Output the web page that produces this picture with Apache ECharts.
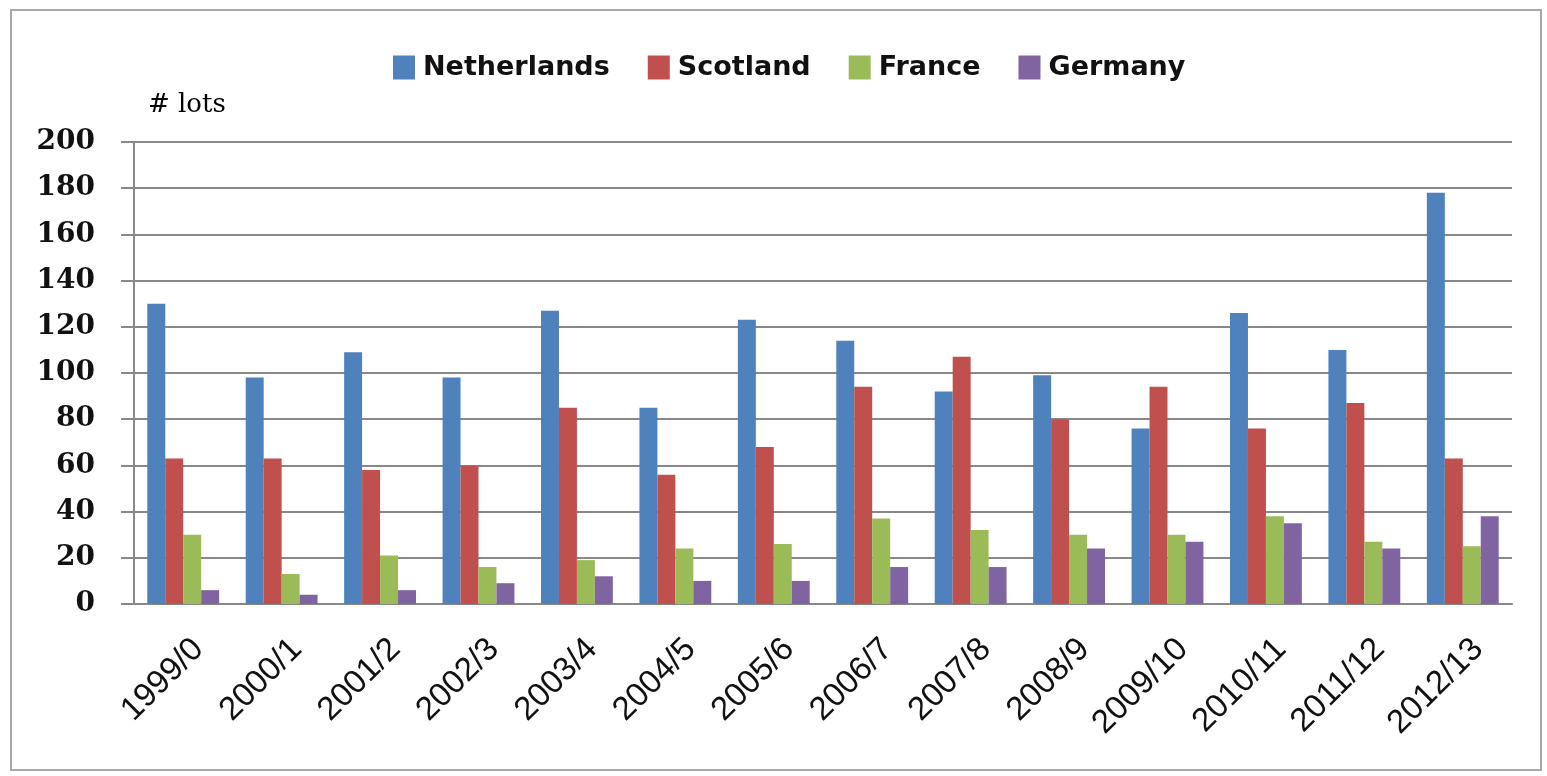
<!DOCTYPE html>
<html>
<head>
<meta charset="utf-8">
<script src="https://cdn.jsdelivr.net/npm/echarts@6/dist/echarts.min.js"></script>
<style>
  html, body { margin: 0; padding: 0; background: #fff; }
  #chart { width: 1547px; height: 776px; }
</style>
</head>
<body>
<div id="chart"></div>
<script>
// Seasons on the category axis
const seasons = ['1999/0', '2000/1', '2001/2', '2002/3', '2003/4', '2004/5', '2005/6',
                 '2006/7', '2007/8', '2008/9', '2009/10', '2010/11', '2011/12', '2012/13'];

// Number of lots per country and season
const netherlands = [130, 98, 109, 98, 127, 85, 123, 114, 92, 99, 76, 126, 110, 178];
const scotland    = [63, 63, 58, 60, 85, 56, 68, 94, 107, 80, 94, 76, 87, 63];
const france      = [30, 13, 21, 16, 19, 24, 26, 37, 32, 30, 30, 38, 27, 25];
const germany     = [6, 4, 6, 9, 12, 10, 10, 16, 16, 24, 27, 35, 24, 38];

const seriesNames = ['Netherlands', 'Scotland', 'France', 'Germany'];
const seriesData = [netherlands, scotland, france, germany];
const palette = ['#4F81BD', '#C0504D', '#9BBB59', '#8064A2'];

const gridGray = '#888888';

const chart = echarts.init(document.getElementById('chart'), null, { renderer: 'canvas' });
chart.setOption({
  animation: false,
  backgroundColor: '#fff',
  color: palette,
  graphic: [{
    type: 'rect',
    silent: true,
    z: -10,
    shape: { x: 11, y: 10, width: 1530, height: 760 },
    style: { fill: 'none', stroke: '#a8a8a8', lineWidth: 2 }
  }],
  legend: {
    left: 388,
    top: 49,
    icon: 'rect',
    itemWidth: 22,
    itemHeight: 24,
    itemGap: 38,
    textStyle: {
      fontFamily: 'DejaVu Sans',
      fontWeight: 'bold',
      fontSize: 27,
      color: '#111',
      padding: [0, 0, 0, 3]
    },
    data: seriesNames
  },
  grid: { left: 134, right: 35, top: 142, bottom: 172 },
  xAxis: {
    type: 'category',
    data: seasons,
    axisLine: { lineStyle: { color: gridGray, width: 2 } },
    axisTick: { length: 10, lineStyle: { color: gridGray, width: 2 } },
    axisLabel: {
      interval: 0,
      rotate: 45,
      margin: 25,
      verticalAlign: 'top',
      padding: [5, 0, 0, 0],
      fontFamily: 'Liberation Sans',
      fontSize: 33,
      color: '#111'
    }
  },
  yAxis: {
    type: 'value',
    min: 0,
    max: 200,
    interval: 20,
    name: '# lots',
    nameLocation: 'end',
    nameGap: 37,
    nameTextStyle: {
      fontFamily: 'DejaVu Serif',
      fontSize: 26,
      color: '#000',
      align: 'left',
      verticalAlign: 'middle',
      padding: [0, 0, 0, 14]
    },
    axisLine: { show: true, lineStyle: { color: gridGray, width: 2 } },
    axisTick: { show: true, length: 13, lineStyle: { color: gridGray, width: 2 } },
    splitLine: { lineStyle: { color: gridGray, width: 2 } },
    axisLabel: {
      margin: 39,
      fontFamily: 'DejaVu Serif',
      fontWeight: 'bold',
      fontSize: 28,
      color: '#111'
    }
  },
  series: seriesNames.map((name, i) => ({
    name: name,
    type: 'bar',
    data: seriesData[i],
    barGap: '0%',
    barCategoryGap: '27%'
  }))
});
</script>
</body>
</html>
